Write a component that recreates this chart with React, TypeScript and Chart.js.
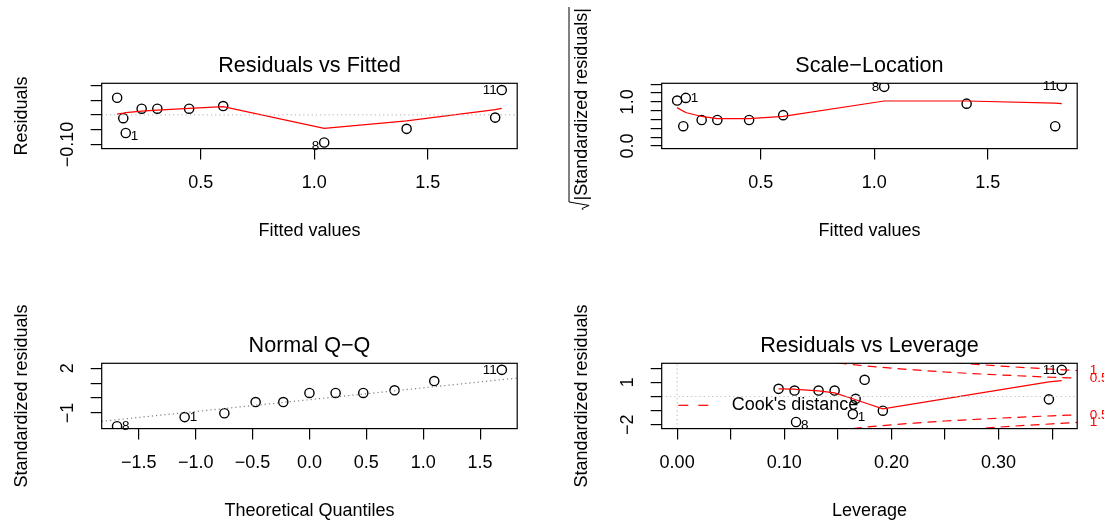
import React, { useEffect, useRef } from 'react';
import { Chart, registerables } from 'chart.js';

Chart.register(...registerables);

const FONT = '"Liberation Sans", Arial, Helvetica, sans-serif';

// ---------------- data ----------------
// Residuals vs Fitted / Scale-Location (ordered by fitted value)
const fittedValues = [0.132, 0.159, 0.170, 0.240, 0.309, 0.449, 0.599, 1.044, 1.407, 1.797, 1.826];
const residualValues = [0.058, -0.011, -0.061, 0.021, 0.021, 0.021, 0.030, -0.093, -0.047, -0.009, 0.084];
const residualSmooth = [0.003, 0.006, 0.008, 0.013, 0.016, 0.022, 0.028, -0.045, -0.020, 0.018, 0.022];
const sqrtAbsStdResid = [1.03, 0.45, 1.09, 0.59, 0.59, 0.59, 0.70, 1.34, 0.96, 0.45, 1.36];
const scaleLocSmooth = [0.87, 0.79, 0.76, 0.67, 0.62, 0.62, 0.67, 1.02, 1.02, 0.97, 0.96];
const fittedIds = ['', '', '1', '', '', '', '', '8', '', '', '11'];

// Normal Q-Q
const theoreticalQuantiles = [-1.691, -1.097, -0.748, -0.473, -0.230, 0.0, 0.230, 0.473, 0.748, 1.097, 1.691];
const orderedStdResid = [-1.89, -1.28, -1.02, -0.27, -0.27, 0.34, 0.34, 0.34, 0.52, 1.14, 1.89];
const qqIds = ['8', '1', '', '', '', '', '', '', '', '', '11'];
const qqLineX = [-1.826, 1.826];
const qqLineY = [-1.56, 1.34];

// Residuals vs Leverage (ordered by leverage)
const leverageValues = [0.0947, 0.1096, 0.111, 0.132, 0.147, 0.164, 0.1666, 0.175, 0.192, 0.347, 0.359];
const leverageStdResid = [0.54, 0.42, -1.80, 0.42, 0.42, -1.24, -0.16, 1.18, -1.00, -0.20, 1.88];
const leverageSmooth = [0.54, 0.52, 0.51, 0.40, 0.26, -0.16, -0.23, -0.44, -0.87, 1.03, 1.12];
const leverageIds = ['', '', '8', '', '', '1', '', '', '', '', '11'];
const cookHalfLev = [0.15, 0.16, 0.175, 0.2, 0.225, 0.25, 0.3, 0.35, 0.3734];
const cookHalfUpper = [2.38, 2.29, 2.17, 2.0, 1.86, 1.73, 1.53, 1.36, 1.295];
const cookHalfLower = [-2.38, -2.29, -2.17, -2.0, -1.86, -1.73, -1.53, -1.36, -1.295];
const cookOneLev = [0.26, 0.28, 0.3, 0.325, 0.35, 0.3734];
const cookOneUpper = [2.39, 2.27, 2.16, 2.04, 1.93, 1.83];
const cookOneLower = [-2.39, -2.27, -2.16, -2.04, -1.93, -1.83];
const cookLabelValues = [-1.83, -1.295, 1.295, 1.83];
const cookLabelText = ['1', '0.5', '0.5', '1'];

// ticks
const fittedTicks = [0.5, 1.0, 1.5];
const fittedTickLabels = ['0.5', '1.0', '1.5'];
const residTicks = [-0.1, -0.05, 0, 0.05, 0.1];
const residTickLabels = ['\u22120.10', '', '', '', ''];
const sqrtTicks = [0, 0.2, 0.4, 0.6, 0.8, 1.0, 1.2, 1.4];
const sqrtTickLabels = ['0.0', '', '', '', '', '1.0', '', ''];
const qqXTicks = [-1.5, -1.0, -0.5, 0, 0.5, 1.0, 1.5];
const qqXTickLabels = ['\u22121.5', '\u22121.0', '\u22120.5', '0.0', '0.5', '1.0', '1.5'];
const qqYTicks = [-1, 0, 1, 2];
const qqYTickLabels = ['\u22121', '', '', '2'];
const levXTicks = [0, 0.05, 0.1, 0.15, 0.2, 0.25, 0.3, 0.35];
const levXTickLabels = ['0.00', '', '0.10', '', '0.20', '', '0.30', ''];
const levYTicks = [-2, -1, 0, 1, 2];
const levYTickLabels = ['\u22122', '', '', '1', ''];

// ---------------- styling ----------------
const AX = 18;
const CAP = 21.6;
const IDF = 13.5;
const TICK = 11;
const LW = 1.2;
const PT_R = 4.6;
const PT_LW = 1.4;
const RED = '#FF0000';
const GRAY = '#BEBEBE';
const GRAY50 = '#7F7F7F';
const DOT = [1.2, 3];
const DASH = [9, 6];
const YLAB_OFF = 33.5;
const YTITLE_OFF = 79.2;
const XTITLE_OFF = 82;
const XTICK_PAD = 12.7;

type Box = { l: number; t: number; r: number; b: number };
interface Panel {
  left: number; top: number; w: number; h: number;
  box: Box;
  caption: string; xTitle: string; yTitle: string;
  xMin: number; xMax: number; yMin: number; yMax: number;
  xTicks: number[]; xTickLabels: string[]; yTicks: number[]; yTickLabels: string[];
  datasets: any[];
  ptIdx: number; ptX: number[]; ptY: number[]; ids: string[]; shiftNeg: boolean;
  sqrtTitle?: boolean; cook?: boolean;
}

const pts = (xs: number[], ys: number[]) => xs.map((x, i) => ({ x, y: ys[i] }));
const pointDS = (data: any[]) => ({
  data, showLine: false, pointRadius: PT_R, pointHoverRadius: PT_R, pointStyle: 'circle',
  pointBorderColor: '#000', pointBackgroundColor: 'rgba(0,0,0,0)', pointBorderWidth: PT_LW,
  borderColor: '#000', backgroundColor: 'rgba(0,0,0,0)', clip: 0,
});
const lineDS = (data: any[], color: string, dash: number[] = [], extra: any = {}) => ({
  data, showLine: true, borderColor: color, backgroundColor: color, borderWidth: LW, borderDash: dash,
  pointRadius: 0, pointHoverRadius: 0, tension: 0, fill: false, clip: 0, ...extra,
});

const TL_BOX: Box = { l: 101.7, t: 83.3, r: 517.2, b: 148.6 };
const TR_BOX: Box = { l: 109.7, t: 83.3, r: 525.2, b: 148.6 };
const BL_BOX: Box = { l: 101.7, t: 101.3, r: 517.2, b: 166.6 };
const BR_BOX: Box = { l: 109.7, t: 101.3, r: 525.2, b: 166.6 };

const fitXMin = 0.064, fitXMax = 1.894;

const PANELS: Panel[] = [
  {
    left: 0, top: 0, w: 552, h: 262, box: TL_BOX,
    caption: 'Residuals vs Fitted', xTitle: 'Fitted values', yTitle: 'Residuals',
    xMin: fitXMin, xMax: fitXMax, yMin: -0.1136, yMax: 0.1068,
    xTicks: fittedTicks, xTickLabels: fittedTickLabels, yTicks: residTicks, yTickLabels: residTickLabels,
    datasets: [
      lineDS([{ x: fitXMin, y: 0 }, { x: fitXMax, y: 0 }], GRAY, DOT),
      lineDS(pts(fittedValues, residualSmooth), RED),
      pointDS(pts(fittedValues, residualValues)),
    ],
    ptIdx: 2, ptX: fittedValues, ptY: residualValues, ids: fittedIds, shiftNeg: true,
  },
  {
    left: 552, top: 0, w: 552, h: 262, box: TR_BOX,
    caption: 'Scale\u2212Location', xTitle: 'Fitted values', yTitle: '',
    xMin: fitXMin, xMax: fitXMax, yMin: -0.057, yMax: 1.42,
    xTicks: fittedTicks, xTickLabels: fittedTickLabels, yTicks: sqrtTicks, yTickLabels: sqrtTickLabels,
    datasets: [
      lineDS(pts(fittedValues, scaleLocSmooth), RED),
      pointDS(pts(fittedValues, sqrtAbsStdResid)),
    ],
    ptIdx: 1, ptX: fittedValues, ptY: sqrtAbsStdResid, ids: fittedIds, shiftNeg: false, sqrtTitle: true,
  },
  {
    left: 0, top: 262, w: 552, h: 261, box: BL_BOX,
    caption: 'Normal Q\u2212Q', xTitle: 'Theoretical Quantiles', yTitle: 'Standardized residuals',
    xMin: -1.826, xMax: 1.826, yMin: -2.05, yMax: 2.33,
    xTicks: qqXTicks, xTickLabels: qqXTickLabels, yTicks: qqYTicks, yTickLabels: qqYTickLabels,
    datasets: [
      lineDS(pts(qqLineX, qqLineY), GRAY50, DOT),
      pointDS(pts(theoreticalQuantiles, orderedStdResid)),
    ],
    ptIdx: 1, ptX: theoreticalQuantiles, ptY: orderedStdResid, ids: qqIds, shiftNeg: false,
  },
  {
    left: 552, top: 262, w: 552, h: 261, box: BR_BOX,
    caption: 'Residuals vs Leverage', xTitle: 'Leverage', yTitle: 'Standardized residuals',
    xMin: -0.0144, xMax: 0.3734, yMin: -2.265, yMax: 2.345,
    xTicks: levXTicks, xTickLabels: levXTickLabels, yTicks: levYTicks, yTickLabels: levYTickLabels,
    datasets: [
      lineDS(pts(cookHalfLev, cookHalfUpper), RED, DASH, { cubicInterpolationMode: 'monotone' }),
      lineDS(pts(cookHalfLev, cookHalfLower), RED, DASH, { cubicInterpolationMode: 'monotone' }),
      lineDS(pts(cookOneLev, cookOneUpper), RED, DASH, { cubicInterpolationMode: 'monotone' }),
      lineDS(pts(cookOneLev, cookOneLower), RED, DASH, { cubicInterpolationMode: 'monotone' }),
      lineDS([{ x: -0.0144, y: 0 }, { x: 0.3734, y: 0 }], GRAY, DOT),
      lineDS([{ x: 0, y: -2.265 }, { x: 0, y: 2.345 }], GRAY, DOT),
      lineDS(pts(leverageValues, leverageSmooth), RED),
      pointDS(pts(leverageValues, leverageStdResid)),
    ],
    ptIdx: 7, ptX: leverageValues, ptY: leverageStdResid, ids: leverageIds, shiftNeg: true, cook: true,
  },
];

function extrasPlugin(p: Panel) {
  return {
    id: 'rExtras',
    afterDraw(chart: any) {
      const { ctx, chartArea: a } = chart;
      ctx.save();
      // plot box
      ctx.setLineDash([]);
      ctx.strokeStyle = '#000';
      ctx.lineWidth = LW;
      ctx.strokeRect(a.left, a.top, a.right - a.left, a.bottom - a.top);
      // point id labels
      const meta = chart.getDatasetMeta(p.ptIdx);
      const mid = (p.xMin + p.xMax) / 2;
      ctx.font = `${IDF}px ${FONT}`;
      ctx.fillStyle = '#000';
      ctx.textBaseline = 'middle';
      p.ids.forEach((id, i) => {
        if (!id) return;
        const el = meta.data[i];
        const toLeft = p.ptX[i] > mid;
        ctx.textAlign = toLeft ? 'right' : 'left';
        const dy = p.shiftNeg && p.ptY[i] < 0 ? 3.3 : 0;
        ctx.fillText(id, el.x + (toLeft ? -5 : 5), el.y + dy);
      });
      // Cook's distance legend
      if (p.cook) {
        const ly = a.bottom - 23.3;
        ctx.strokeStyle = RED;
        ctx.lineWidth = LW;
        ctx.setLineDash([10, 10]);
        ctx.beginPath();
        ctx.moveTo(a.left + 16.6, ly);
        ctx.lineTo(a.left + 46.6, ly);
        ctx.stroke();
        ctx.setLineDash([]);
        ctx.font = `${AX}px ${FONT}`;
        ctx.textAlign = 'left';
        ctx.fillStyle = '#000';
        ctx.fillText("Cook's distance", a.left + 70, ly);
      }
      // sqrt(|Standardized residuals|) axis title
      if (p.sqrtTitle) {
        const txt = '|Standardized residuals|';
        ctx.font = `${AX}px ${FONT}`;
        const wt = ctx.measureText(txt).width;
        const cx = a.left - YTITLE_OFF;
        const cy = (a.top + a.bottom) / 2 - 11.7;
        ctx.translate(cx, cy);
        ctx.rotate(-Math.PI / 2);
        const x0 = -wt / 2;
        ctx.textAlign = 'left';
        ctx.textBaseline = 'middle';
        ctx.fillStyle = '#000';
        ctx.fillText(txt, x0, 0);
        const yb = 5.6;
        const yv = -13.5;
        ctx.strokeStyle = '#000';
        ctx.lineWidth = 1;
        ctx.beginPath();
        ctx.moveTo(x0 - 9.5, yb - 5);
        ctx.lineTo(x0 - 8, yb - 6);
        ctx.lineTo(x0 - 5, yb + 1);
        ctx.lineTo(x0 - 1.5, yv);
        ctx.lineTo(x0 + wt + 1, yv);
        ctx.stroke();
      }
      ctx.restore();
    },
  };
}

function buildConfig(p: Panel, widestY: number): any {
  const font = { family: FONT, size: AX };
  const grid = { display: true, drawOnChartArea: false, drawTicks: true, tickLength: TICK, color: '#000', lineWidth: LW };
  const scales: any = {
    x: {
      type: 'linear', position: 'bottom', min: p.xMin, max: p.xMax,
      afterBuildTicks: (s: any) => { s.ticks = p.xTicks.map((v) => ({ value: v })); },
      afterFit: (s: any) => { s.height = p.h - p.box.b; },
      ticks: {
        autoSkip: false, minRotation: 0, maxRotation: 0, padding: XTICK_PAD, color: '#000', font,
        callback: (_v: any, i: number) => p.xTickLabels[i],
      },
      grid, border: { display: false },
      title: {
        display: true, text: p.xTitle, color: '#000', font,
        padding: { top: 0, bottom: p.h - p.box.b - XTITLE_OFF - AX * 0.6 },
      },
    },
    y: {
      type: 'linear', position: 'left', min: p.yMin, max: p.yMax,
      afterBuildTicks: (s: any) => { s.ticks = p.yTicks.map((v) => ({ value: v })); },
      afterFit: (s: any) => { s.width = p.box.l; },
      ticks: {
        autoSkip: false, minRotation: 90, maxRotation: 90, crossAlign: 'center',
        padding: YLAB_OFF - TICK - widestY / 2, color: '#000', font,
        callback: (_v: any, i: number) => p.yTickLabels[i],
      },
      grid, border: { display: false },
      title: {
        display: !p.sqrtTitle, text: p.yTitle, color: '#000', font,
        padding: { top: p.box.l - YTITLE_OFF - AX * 0.6, bottom: 0 },
      },
    },
  };
  if (p.cook) {
    scales.y2 = {
      type: 'linear', position: 'right', min: p.yMin, max: p.yMax,
      afterBuildTicks: (s: any) => { s.ticks = cookLabelValues.map((v) => ({ value: v })); },
      afterFit: (s: any) => { s.width = p.w - p.box.r; },
      ticks: {
        autoSkip: false, minRotation: 0, maxRotation: 0, padding: 4.5, color: RED,
        font: { family: FONT, size: IDF },
        callback: (_v: any, i: number) => cookLabelText[i],
      },
      grid: { display: false }, border: { display: false },
    };
  }
  return {
    type: 'scatter',
    data: { datasets: p.datasets },
    options: {
      animation: false,
      responsive: false,
      devicePixelRatio: 1,
      events: [],
      layout: { padding: { left: 0, top: 0, bottom: 0, right: p.cook ? 0 : p.w - p.box.r } },
      scales,
      plugins: {
        legend: { display: false },
        tooltip: { enabled: false },
        title: {
          display: true, text: p.caption, color: '#000', fullSize: false,
          font: { family: FONT, size: CAP, weight: 'normal' },
          padding: { top: p.box.t - CAP * 1.2 - 4.3, bottom: 4.3 },
        },
      },
    },
    plugins: [extrasPlugin(p)],
  };
}

export default function App() {
  const r0 = useRef<HTMLCanvasElement>(null);
  const r1 = useRef<HTMLCanvasElement>(null);
  const r2 = useRef<HTMLCanvasElement>(null);
  const r3 = useRef<HTMLCanvasElement>(null);
  const refs = [r0, r1, r2, r3];

  useEffect(() => {
    Chart.defaults.color = '#000';
    Chart.defaults.font.family = FONT;
    const m = document.createElement('canvas').getContext('2d') as CanvasRenderingContext2D;
    m.font = `${AX}px ${FONT}`;
    const charts = PANELS.map((p, i) => {
      const widest = Math.max(0, ...p.yTickLabels.map((l) => m.measureText(l).width));
      return new Chart(refs[i].current as HTMLCanvasElement, buildConfig(p, widest));
    });
    return () => charts.forEach((c) => c.destroy());
  }, []);

  return (
    <div style={{ position: 'fixed', left: 0, top: 0, width: 1104, height: 523, background: '#fff', overflow: 'hidden' }}>
      {PANELS.map((p, i) => (
        <canvas
          key={i}
          ref={refs[i]}
          width={p.w}
          height={p.h}
          style={{ position: 'absolute', left: p.left, top: p.top, width: p.w, height: p.h }}
        />
      ))}
    </div>
  );
}
